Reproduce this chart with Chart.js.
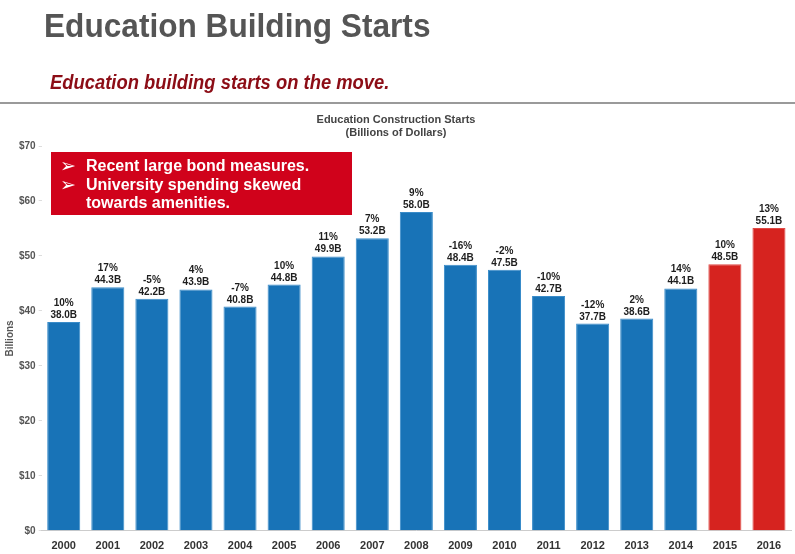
<!DOCTYPE html>
<html>
<head>
<meta charset="utf-8">
<script src="https://cdn.jsdelivr.net/npm/chart.js@4"></script>
<style>
  html, body { margin: 0; padding: 0; background: #fff; }
  #wrap { position: relative; width: 795px; height: 554px; }
</style>
</head>
<body>
<div id="wrap"><canvas id="myGrafic" width="795" height="554"></canvas></div>
<script>
let years = ['2000','2001','2002','2003','2004','2005','2006','2007','2008','2009','2010','2011','2012','2013','2014','2015','2016'];
let starts = [38.0, 44.3, 42.2, 43.9, 40.8, 44.8, 49.9, 53.2, 58.0, 48.4, 47.5, 42.7, 37.7, 38.6, 44.1, 48.5, 55.1];
let change = ['10%','17%','-5%','4%','-7%','10%','11%','7%','9%','-16%','-2%','-10%','-12%','2%','14%','10%','13%'];
let forecastYears = ['2015','2016'];
let yTicks = [0, 10, 20, 30, 40, 50, 60, 70];
let bullets = ['Recent large bond measures.', 'University spending skewed', 'towards amenities.'];

let fillColors = years.map(y => forecastYears.includes(y) ? '#d6231f' : '#1873b7');
let lineColors = years.map(y => forecastYears.includes(y) ? '#e04a45' : '#3a8cc9');

// dibuja encabezado, etiquetas de barras y el recuadro rojo
let extras = {
  id: 'extras',
  afterDraw(chart) {
    let ctx = chart.ctx;
    ctx.save();
    // titulo principal
    ctx.fillStyle = '#555555';
    ctx.textBaseline = 'alphabetic';
    ctx.textAlign = 'left';
    ctx.save();
    ctx.translate(44, 37);
    ctx.scale(0.93, 1);
    ctx.font = 'bold 34px "Liberation Sans", Arial, sans-serif';
    ctx.fillText('Education Building Starts', 0, 0);
    ctx.restore();
    // subtitulo
    ctx.save();
    ctx.translate(50, 89);
    ctx.scale(0.92, 1);
    ctx.fillStyle = '#8c0d16';
    ctx.font = 'italic bold 20px "Liberation Sans", Arial, sans-serif';
    ctx.fillText('Education building starts on the move.', 0, 0);
    ctx.restore();
    // linea
    ctx.fillStyle = '#9a9a9a';
    ctx.fillRect(0, 102, 795, 2);
    // titulo del grafico
    ctx.fillStyle = '#444';
    ctx.textAlign = 'center';
    ctx.font = 'bold 11px "Liberation Sans", Arial, sans-serif';
    ctx.fillText('Education Construction Starts', 396, 123);
    ctx.fillText('(Billions of Dollars)', 396, 136);

    // etiquetas sobre las barras
    let meta = chart.getDatasetMeta(0);
    ctx.fillStyle = '#1e1e1e';
    ctx.font = 'bold 10px "Liberation Sans", Arial, sans-serif';
    meta.data.forEach((bar, i) => {
      ctx.fillText(change[i], bar.x, bar.y - 16);
      ctx.fillText(starts[i].toFixed(1) + 'B', bar.x, bar.y - 4);
    });

    // recuadro
    ctx.fillStyle = '#d0021b';
    ctx.fillRect(51, 152, 301, 63);
    ctx.fillStyle = '#ffffff';
    ctx.textAlign = 'left';
    ctx.font = 'bold 19px "DejaVu Sans", sans-serif';
    ctx.fillText('\u27A2', 60, 172);
    ctx.fillText('\u27A2', 60, 191);
    ctx.font = 'bold 16px "Liberation Sans", Arial, sans-serif';
    ctx.fillText(bullets[0], 86, 171);
    ctx.fillText(bullets[1], 86, 190);
    ctx.fillText(bullets[2], 86, 208);
    ctx.restore();
  }
};

let myChart = {
  type: 'bar',
  data: {
    labels: years,
    datasets: [{
      label: 'Education Construction Starts',
      data: starts,
      backgroundColor: fillColors,
      borderColor: lineColors,
      borderWidth: 1,
      barPercentage: 0.75,
      categoryPercentage: 1
    }]
  },
  options: {
    responsive: false,
    animation: false,
    layout: { padding: { top: 146, right: 4, left: 4, bottom: 0 } },
    plugins: {
      legend: { display: false },
      tooltip: { enabled: false }
    },
    scales: {
      x: {
        grid: { display: false },
        border: { color: '#cccccc' },
        ticks: {
          color: '#333',
          font: { family: '"Liberation Sans", Arial, sans-serif', size: 11, weight: 'bold' },
          padding: 1
        }
      },
      y: {
        min: 0,
        max: 70,
        afterBuildTicks: (axis) => { axis.ticks = yTicks.map(v => ({ value: v })); },
        grid: { drawOnChartArea: false, tickLength: 3, color: '#dddddd' },
        border: { display: false },
        title: {
          display: true,
          text: 'Billions',
          color: '#555',
          font: { family: '"Liberation Sans", Arial, sans-serif', size: 10, weight: 'bold' },
          padding: 0
        },
        ticks: {
          color: '#555',
          font: { family: '"Liberation Sans", Arial, sans-serif', size: 10, weight: 'bold' },
          padding: 3,
          callback: (v) => '$' + v
        }
      }
    }
  },
  plugins: [extras]
};

var myGrafic = document.getElementById('myGrafic');
window.bars = new Chart(myGrafic, myChart);
</script>
</body>
</html>
